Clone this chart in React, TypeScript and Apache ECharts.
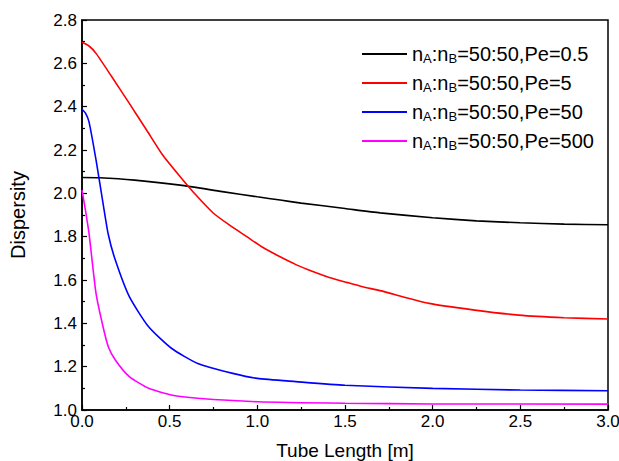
import React, { useEffect, useRef } from "react";
import * as echarts from "echarts";

const seriesNames = [
  "nA:nB=50:50,Pe=0.5",
  "nA:nB=50:50,Pe=5",
  "nA:nB=50:50,Pe=50",
  "nA:nB=50:50,Pe=500",
];
const seriesColors = ["#000000", "#ff0000", "#0000ff", "#ff00ff"];

const xPe05 = [0, 0.1, 0.3, 0.56, 0.8, 1.0, 1.13, 1.25, 1.5, 1.7, 2.0, 2.25, 2.5, 2.75, 3.0];
const yPe05 = [2.073, 2.072, 2.061, 2.038, 2.008, 1.984, 1.969, 1.955, 1.93, 1.91, 1.887, 1.873, 1.864, 1.858, 1.855];

const xPe5 = [0, 0.04, 0.08, 0.17, 0.27, 0.37, 0.46, 0.56, 0.65, 0.75, 0.84, 0.94, 1.03, 1.13, 1.22, 1.32, 1.41, 1.51, 1.6, 1.7, 1.98, 2.24, 2.49, 2.75, 3.0];
const yPe5 = [2.697, 2.68, 2.646, 2.538, 2.415, 2.29, 2.177, 2.077, 1.992, 1.908, 1.854, 1.8, 1.751, 1.707, 1.671, 1.638, 1.612, 1.589, 1.569, 1.551, 1.492, 1.461, 1.438, 1.426, 1.42];

const xPe50 = [0, 0.02, 0.04, 0.08, 0.12, 0.15, 0.19, 0.27, 0.38, 0.51, 0.66, 0.86, 1.0, 1.22, 1.5, 2.0, 2.5, 3.0];
const yPe50 = [2.388, 2.37, 2.33, 2.154, 1.954, 1.81, 1.692, 1.523, 1.384, 1.285, 1.215, 1.169, 1.146, 1.131, 1.114, 1.1, 1.092, 1.089];

const xPe500 = [0, 0.02, 0.04, 0.08, 0.12, 0.15, 0.19, 0.27, 0.38, 0.51, 0.66, 1.0, 1.5, 2.0, 3.0];
const yPe500 = [2.015, 1.92, 1.815, 1.538, 1.384, 1.292, 1.231, 1.154, 1.1, 1.069, 1.054, 1.038, 1.031, 1.028, 1.027];

const xs = [xPe05, xPe5, xPe50, xPe500];
const ys = [yPe05, yPe5, yPe50, yPe500];

const FONT = "'Liberation Sans', Arial, sans-serif";

export default function App() {
  const ref = useRef<HTMLDivElement>(null);
  useEffect(() => {
    if (!ref.current) return;
    const chart = echarts.init(ref.current, null, { renderer: "svg" });
    const series = seriesNames.map((name, i) => ({
      name,
      type: "line",
      symbol: "none",
      smooth: 0.2,
      data: xs[i].map((x, j) => [x, ys[i][j]]),
      lineStyle: { color: seriesColors[i], width: 1.6 },
      itemStyle: { color: seriesColors[i] },
    }));
    chart.setOption({
      animation: false,
      backgroundColor: "#ffffff",
      textStyle: { fontFamily: FONT },
      grid: {
        left: 82,
        right: 11,
        top: 20,
        bottom: 51,
        outerBoundsMode: "none",
        containLabel: false,
        show: true,
        borderColor: "#000",
        borderWidth: 1.5,
      },
      legend: {
        orient: "vertical",
        left: 362,
        top: 44,
        padding: 0,
        icon: "rect",
        itemWidth: 45,
        itemHeight: 2,
        itemGap: 8,
        data: seriesNames,
        formatter: (name: string) => {
          const rest = name.replace("nA:nB", "");
          return `{t|n}{s|A}{t|:n}{s|B}{t|${rest}}`;
        },
        textStyle: {
          rich: {
            t: { fontSize: 20, fontFamily: FONT, color: "#000", lineHeight: 22, verticalAlign: "middle" },
            s: { fontSize: 13, fontFamily: FONT, color: "#000", lineHeight: 8, verticalAlign: "bottom" },
          },
        },
      },
      xAxis: {
        type: "value",
        min: 0,
        max: 3,
        interval: 0.5,
        name: "Tube Length [m]",
        nameLocation: "middle",
        nameGap: 31,
        nameTextStyle: { fontSize: 19, color: "#000", fontFamily: FONT },
        axisLine: { lineStyle: { color: "#000", width: 1.5 } },
        axisTick: { inside: true, length: 5, lineStyle: { color: "#000", width: 1.2 } },
        minorTick: { show: true, splitNumber: 2, length: 3, lineStyle: { color: "#000", width: 1.2 } },
        splitLine: { show: false },
        axisLabel: {
          fontSize: 17,
          color: "#000",
          margin: 3,
          fontFamily: FONT,
          formatter: (v: number) => v.toFixed(1),
        },
      },
      yAxis: {
        type: "value",
        min: 1.0,
        max: 2.8,
        interval: 0.2,
        name: "Dispersity",
        nameLocation: "middle",
        nameGap: 54,
        nameTextStyle: { fontSize: 20, color: "#000", fontFamily: FONT },
        axisLine: { lineStyle: { color: "#000", width: 1.5 } },
        axisTick: { inside: true, length: 5, lineStyle: { color: "#000", width: 1.2 } },
        minorTick: { show: true, splitNumber: 2, length: 3, lineStyle: { color: "#000", width: 1.2 } },
        splitLine: { show: false },
        axisLabel: {
          fontSize: 17,
          color: "#000",
          margin: 5,
          fontFamily: FONT,
          formatter: (v: number) => v.toFixed(1),
        },
      },
      series,
    });
    return () => chart.dispose();
  }, []);
  return (
    <div
      ref={ref}
      style={{ position: "fixed", left: 0, top: 0, width: 619, height: 461 }}
    />
  );
}
